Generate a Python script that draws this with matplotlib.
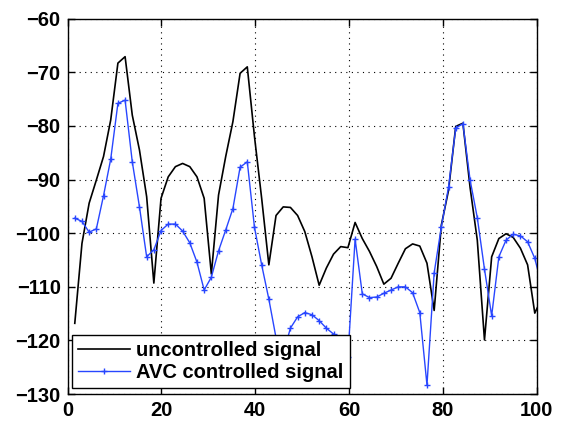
import numpy as np
import matplotlib
matplotlib.use("Agg")
import matplotlib.pyplot as plt

# -----------------------------
# Data
# -----------------------------
# sample positions (last one falls just past the axis limit)
x = np.arange(1, 67) * 1.532

uncontrolled = [
    -116.8, -101.9, -94.4, -90.1, -85.7, -78.9, -68.3, -67.1, -78.0, -84.5,
    -93.2, -109.3, -93.5, -89.5, -87.6, -87.0, -87.6, -89.5, -93.5, -107.6,
    -92.9, -85.7, -79.2, -70.2, -69.0, -82.0, -93.5, -105.9, -96.7, -95.1,
    -95.2, -96.7, -99.7, -104.4, -109.7, -106.5, -103.9, -102.5, -102.7, -98.0,
    -101.0, -103.4, -106.2, -109.5, -108.4, -105.6, -102.9, -102.0, -102.4, -105.6,
    -114.4, -98.5, -92.0, -80.1, -79.5, -91.5, -101.3, -119.9, -104.4, -101.0,
    -100.1, -100.8, -102.8, -105.9, -114.9, -112.0,
]

avc_controlled = [
    -97.2, -97.8, -99.8, -99.2, -93.0, -86.2, -75.8, -75.2, -86.7, -95.1,
    -104.4, -103.1, -99.5, -98.3, -98.3, -99.6, -101.8, -105.4, -110.6, -108.2,
    -103.3, -99.4, -95.4, -87.7, -86.7, -98.9, -105.9, -112.3, -119.5, -122.5,
    -117.7, -115.6, -114.8, -115.2, -116.3, -117.7, -118.8, -121.0, -123.0, -101.1,
    -111.3, -112.0, -111.9, -111.2, -110.6, -110.0, -110.0, -111.1, -114.8, -128.3,
    -107.4, -98.8, -91.4, -80.4, -79.6, -90.1, -97.1, -106.7, -115.4, -104.4,
    -101.3, -100.2, -100.5, -101.6, -104.7, -110.0,
]

x_ticks = [0, 20, 40, 60, 80, 100]
y_ticks = [-130, -120, -110, -100, -90, -80, -70, -60]

# -----------------------------
# Figure
# -----------------------------
plt.rcParams["font.family"] = ["Liberation Sans", "DejaVu Sans"]

fig = plt.figure(figsize=(5.68, 4.22), dpi=100)
ax = fig.add_axes([0.119, 0.066, 0.826, 0.890])

ax.plot(x, uncontrolled, color="black", lw=1.2, label="uncontrolled signal")
ax.plot(x, avc_controlled, color="#2846ff", lw=1.0, marker="+",
        markersize=5, markeredgewidth=1.0, label="AVC controlled signal")

ax.set_xlim(0, 100)
ax.set_ylim(-130, -60)
ax.set_xticks(x_ticks)
ax.set_yticks(y_ticks)

ax.grid(True, color="black", linestyle=(0, (1, 4)), linewidth=0.8)
ax.tick_params(direction="in", top=True, right=True, length=5, width=1,
               labelsize=14.5, pad=5)
for lbl in ax.get_xticklabels() + ax.get_yticklabels():
    lbl.set_fontweight("bold")
for sp in ax.spines.values():
    sp.set_linewidth(1.0)

# legend sits over the lower part of the traces, opaque
leg = ax.legend(loc="lower left", bbox_to_anchor=(0.009, 0.016),
                borderaxespad=0, fancybox=False, framealpha=1,
                edgecolor="black", handlelength=2.6, handletextpad=0.3,
                borderpad=0.3, labelspacing=0.15,
                prop={"weight": "bold", "size": 14.5})
leg.get_frame().set_linewidth(1.0)

fig.savefig("out.png", dpi=100)
